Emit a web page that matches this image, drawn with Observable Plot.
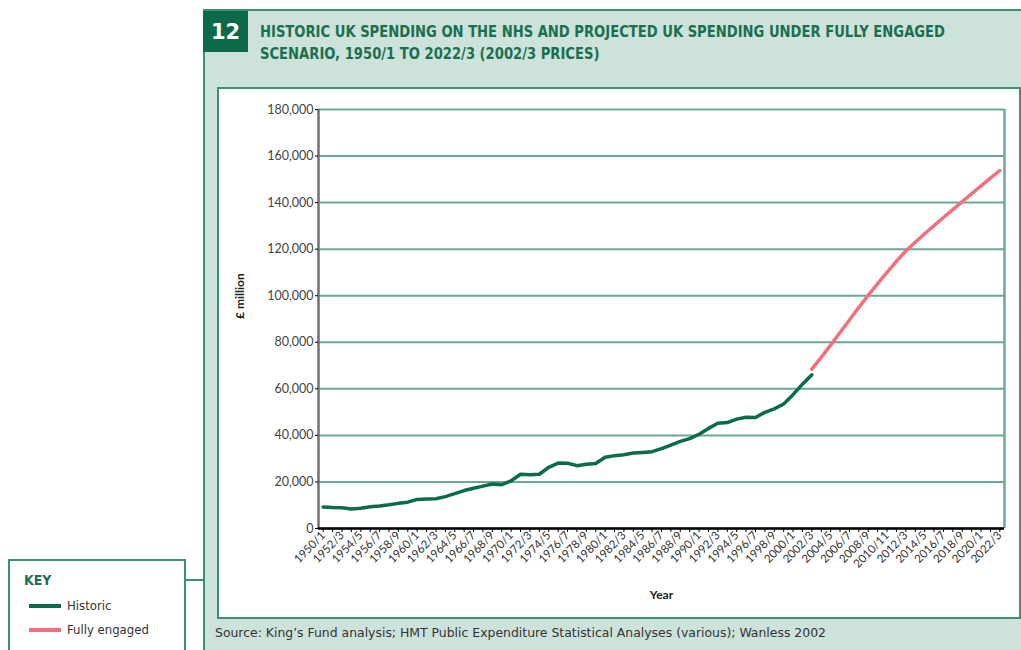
<!DOCTYPE html>
<html><head><meta charset="utf-8">
<script src="https://cdn.jsdelivr.net/npm/d3@7"></script>
<script src="https://cdn.jsdelivr.net/npm/@observablehq/plot@0.6"></script>
<style>
html,body{margin:0;padding:0}
body{width:1021px;height:650px;overflow:hidden;background:#fff;position:relative;font-family:"Liberation Sans Narrow","DejaVu Sans Condensed","Roboto",sans-serif}
#panel{position:absolute;left:203px;top:9px;width:818px;height:641px;background:#cde2db;border-top:2px solid #3f8f74;border-left:2px solid #3f8f74;box-sizing:border-box}
#num{position:absolute;left:203px;top:11px;width:45px;height:41px;background:#0c6a4b;color:#fff;font:bold 21px "DejaVu Sans",sans-serif;display:flex;align-items:center;justify-content:center}
.title{position:absolute;left:260px;font:bold 15px "Liberation Sans Narrow","DejaVu Sans Condensed",sans-serif;color:#1b6f50;white-space:nowrap;transform-origin:0 50%;line-height:18px}
#box{position:absolute;left:217px;top:87px;width:800px;height:528px;background:#fff;border:2px solid #3f8f74}
#chart{position:absolute;left:219px;top:89px}
#source{position:absolute;left:215px;top:625px;font-size:13px;line-height:16px;color:#333;white-space:nowrap;transform-origin:0 50%}
#key{position:absolute;left:8px;top:559px;width:178px;height:100px;background:#fff;border:2px solid #3f8f74;box-sizing:border-box}
#conn{position:absolute;left:186px;top:579px;width:18px;height:2px;background:#3f8f74}
#keyt{position:absolute;left:24px;top:572px;font:bold 14px "Liberation Sans Narrow","DejaVu Sans Condensed",sans-serif;color:#1b6f50}
.sw{position:absolute;left:29px;width:32px;height:4px}
.kl{position:absolute;left:67px;font-size:13px;color:#333}
</style></head>
<body>
<div id="panel"></div>
<div id="num">12</div>
<div class="title" id="t1" style="top:23px">HISTORIC UK SPENDING ON THE NHS AND PROJECTED UK SPENDING UNDER FULLY ENGAGED</div>
<div class="title" id="t2" style="top:45px">SCENARIO, 1950/1 TO 2022/3 (2002/3 PRICES)</div>
<div id="box"></div>
<div id="chart"></div>
<div id="source">Source: King’s Fund analysis; HMT Public Expenditure Statistical Analyses (various); Wanless 2002</div>
<div id="conn"></div>
<div id="key"></div>
<div id="keyt">KEY</div>
<div class="sw" style="top:604px;background:#0b6b4b"></div>
<div class="kl" style="top:598px">Historic</div>
<div class="sw" style="top:628px;background:#f2707e"></div>
<div class="kl" style="top:622px">Fully engaged</div>
<script>
// Data
const historicYears = d3.range(1950, 2003);
const historicValues = [
  9200, 9000, 8900, 8400, 8700, 9300, 9700, 10200, 10800, 11300,
  12500, 12700, 12800, 13700, 15000, 16300, 17300, 18200, 19100, 18800,
  20500, 23300, 23100, 23300, 26300, 28100, 28000, 27000, 27600, 27900,
  30600, 31300, 31700, 32400, 32700, 33000, 34300, 35800, 37400, 38600,
  40500, 43000, 45200, 45500, 47000, 47800, 47700, 49900, 51400, 53500,
  57500, 62000, 66000
];
const projectedYears = d3.range(2002, 2023);
const projectedValues = [
  68500, 73500, 78800, 84200, 89600, 95000, 100200, 105200, 110000, 114800,
  119200, 123000, 126600, 130100, 133600, 137000, 140400, 143800, 147200, 150500,
  153800
];
const allYears = d3.range(1950, 2023);
const yTicks = [0, 20000, 40000, 60000, 80000, 100000, 120000, 140000, 160000, 180000];
const fyLabel = y => y === 2010 ? "2010/11" : `${y}/${(y + 1) % 10}`;

const historic = historicYears.map((y, i) => ({year: String(y), value: historicValues[i]}));
const projected = projectedYears.map((y, i) => ({year: String(y), value: projectedValues[i]}));

const W = 800, H = 528, mL = 99, mR = 15;
const step = (W - mL - mR) / allYears.length;

const chart = Plot.plot({
  width: W, height: H,
  marginLeft: mL, marginRight: mR, marginTop: 20, marginBottom: 89,
  style: {fontFamily: "Lato, 'Open Sans', sans-serif", fontSize: "11px", color: "#333", background: "transparent"},
  x: {type: "point", domain: allYears.map(String), padding: 0.5, round: false, label: null},
  y: {domain: [0, 180000], label: null},
  marks: [
    Plot.gridY(yTicks, {stroke: "#6aa895", strokeOpacity: 1, strokeWidth: 2}),
    Plot.ruleX(["2022"], {dx: step / 2, stroke: "#6aa895", strokeWidth: 2.5, y1: 0, y2: 180000}),
    Plot.ruleX(["1950"], {dx: -step / 2, stroke: "#707070", strokeWidth: 2.5, y1: 0, y2: 180000}),
    Plot.axisY(yTicks, {tickFormat: d => d === 0 ? "0" : d3.format(",")(d), tickSize: 3, tickPadding: 2, stroke: "#000", fill: "#444", fontSize: 12.5}),
    Plot.axisX(allYears.map(String), {
      tickFormat: d => (+d % 2 === 0 ? fyLabel(+d) : ""),
      tickRotate: -46, tickSize: 4, tickPadding: 1, stroke: "#000", fill: "#333", fontSize: 11.5
    }),
    Plot.ruleY([0], {stroke: "#000", strokeWidth: 2.5}),
    Plot.line(historic, {x: "year", y: "value", stroke: "#0b6b4b", strokeWidth: 3.5, strokeLinecap: "round", strokeLinejoin: "round"}),
    Plot.line(projected, {x: "year", y: "value", stroke: "#f2707e", strokeWidth: 3.5, strokeLinecap: "round", strokeLinejoin: "round"}),
    Plot.text(["£ million"], {frameAnchor: "left", dx: -78, rotate: -90, fontWeight: "bold", fontSize: 12, fill: "#222"}),
    Plot.text(["Year"], {frameAnchor: "bottom", dy: 70, fontWeight: "bold", fontSize: 12, fill: "#222"})
  ]
});
document.getElementById("chart").appendChild(chart);

function fitX(id, w) {
  const el = document.getElementById(id);
  const cw = el.getBoundingClientRect().width;
  return w / cw;
}
const s1 = fitX("t1", 685);
["t1", "t2"].forEach(id => {
  document.getElementById(id).style.transform = `scaleX(${s1})`;
});
const ss = fitX("source", 611);
document.getElementById("source").style.transform = `scaleX(${ss})`;
</script>
</body></html>
